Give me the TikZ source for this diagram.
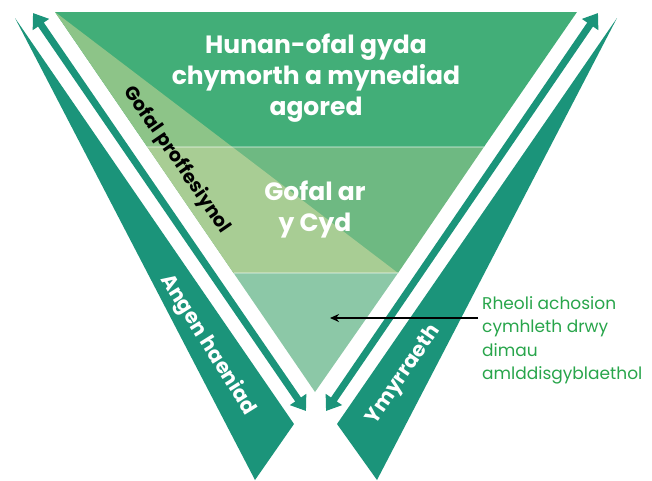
\documentclass[tikz,border=0pt]{standalone}
\usepackage{fontspec}
\setmainfont{Poppins}
\usetikzlibrary{arrows.meta}
\definecolor{topg}{RGB}{66,174,120}
\definecolor{topl}{RGB}{141,196,136}
\definecolor{midg}{RGB}{110,185,130}
\definecolor{midl}{RGB}{168,205,148}
\definecolor{botg}{RGB}{140,200,167}
\definecolor{tealg}{RGB}{27,148,122}
\definecolor{txtg}{RGB}{40,165,75}
\begin{document}
\begin{tikzpicture}[x=1pt,y=-1pt,
  sep/.style={draw=white,opacity=0.3,line width=1.5pt},
  wedge/.style={fill=tealg,draw=none},
  dbl/.style={draw=tealg,line width=7pt,{Triangle[length=14pt,width=19pt]}-{Triangle[length=14pt,width=19pt]}},
  headtxt/.style={text=white,font=\bfseries\fontsize{25}{31}\selectfont,align=center},
  sidetxt/.style={font=\bfseries\fontsize{20.5}{22}\selectfont},
  notetxt/.style={text=txtg,font=\fontsize{17}{23.5}\selectfont,align=left,anchor=north west,inner sep=0pt}]
\useasboundingbox (0,0) rectangle (652,480);
% main triangle points
\coordinate (TL) at (55,12);
\coordinate (TR) at (577,12);
\coordinate (AP) at (315,392);
\coordinate (L1) at (147.4,147);
\coordinate (R1) at (483.9,147);
\coordinate (D1) at (232.4,147);
\coordinate (L2) at (233.6,273);
\coordinate (R2) at (398,273);
% bands
\fill[topg] (TL) -- (TR) -- (R1) -- (L1) -- cycle;
\fill[topl] (TL) -- (D1) -- (L1) -- cycle;
\fill[midg] (L1) -- (R1) -- (R2) -- (L2) -- cycle;
\fill[midl] (L1) -- (D1) -- (R2) -- (L2) -- cycle;
\fill[botg] (L2) -- (R2) -- (AP) -- cycle;
\draw[sep] (L1) -- (R1);
\draw[sep] (L2) -- (R2);
% wedges
\coordinate (WLt) at (15,18);
\coordinate (WLc) at (294,424);
\coordinate (WLb) at (255,480);
\coordinate (WRt) at (617,18);
\coordinate (WRc) at (337,424);
\coordinate (WRb) at (377,480);
\fill[wedge] (WLt) -- (WLc) -- (WLb) -- cycle;
\fill[wedge] (WRt) -- (WRc) -- (WRb) -- cycle;
% double arrows
\coordinate (ALt) at (33,13);
\coordinate (ALb) at (306,411);
\coordinate (ARt) at (598,13);
\coordinate (ARb) at (326,411);
\draw[dbl] (ALb) -- (ALt);
\draw[dbl] (ARb) -- (ARt);
% texts
\node[headtxt] (self) at (316,78) {Hunan-ofal gyda\\chymorth a mynediad\\agored};
\node[headtxt] (shared) at (315,210) {Gofal ar\\y Cyd};
\node[text=black,font=\bfseries\fontsize{19}{20}\selectfont,rotate=-55.5] (prof) at (177,160) {Gofal proffesiynol};
\node[sidetxt,text=white,rotate=-58] (need) at (208,345) {Angen haeniad};
\node[sidetxt,text=white,rotate=55.5] (interv) at (404,375) {Ymyrraeth};
\node[notetxt] (note) at (482,296) {Rheoli achosion\\cymhleth drwy\\dimau\\amlddisgyblaethol};
\coordinate (tgt) at (330,318);
\draw[black,line width=1.5pt,-{Stealth[length=9pt,width=8pt]}] (tgt -| note.west) ++(-4,0) -- (tgt);
\end{tikzpicture}
\end{document}
